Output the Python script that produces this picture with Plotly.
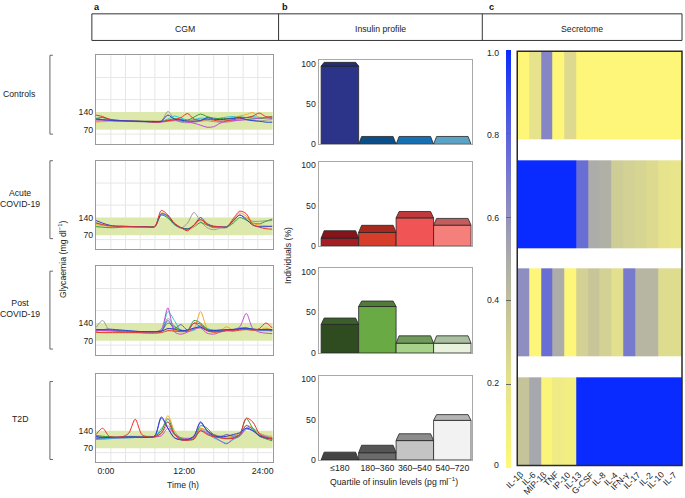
import plotly.graph_objects as go

W, H = 685, 498
FONT = "Liberation Sans, Arial, sans-serif"
FS = 8.7
TXT = "#222222"

# ---------------- data ----------------
HOURS = [-1.5, -0.5, 0.5, 1.5, 2.5, 3.5, 4.5, 5.5, 6.5, 7.5, 8.5, 9.5, 10.5, 11.5,
         12.5, 13.5, 14.5, 15.5, 16.5, 17.5, 18.5, 19.5, 20.5, 21.5, 22.5, 23.5, 24.5, 25.5]
TIME_TICKS = [0, 12, 24]
TIME_LABELS = ["0:00", "12:00", "24:00"]
GLY_TICKS = [70, 140]

GROUPS = ["Controls", "Acute<br>COVID-19", "Post<br>COVID-19", "T2D"]

CTRL_RED = [128, 122, 112, 108, 106, 104, 104, 103, 102, 100, 102, 106, 110, 118, 134, 112, 108, 112, 108, 104, 106, 110, 114, 118, 124, 136, 122, 120]
CTRL_BLUE = [112, 110, 108, 106, 106, 105, 104, 103, 102, 102, 104, 128, 112, 108, 104, 104, 106, 118, 112, 110, 112, 114, 118, 110, 106, 104, 100, 100]
CTRL_GREEN = [115, 118, 112, 108, 106, 104, 104, 103, 103, 103, 102, 108, 114, 110, 108, 120, 132, 122, 116, 114, 114, 116, 120, 118, 116, 114, 118, 122]
CTRL_ORANGE = [100, 102, 104, 104, 105, 104, 104, 104, 104, 104, 104, 106, 108, 110, 108, 104, 106, 110, 110, 112, 114, 118, 124, 130, 138, 118, 116, 118]
CTRL_CYAN = [112, 110, 108, 106, 105, 105, 104, 104, 104, 103, 104, 112, 124, 116, 108, 110, 116, 114, 110, 116, 120, 122, 120, 118, 122, 118, 116, 116]
CTRL_MAGENTA = [105, 106, 106, 105, 104, 104, 103, 103, 102, 100, 100, 104, 106, 104, 100, 96, 88, 80, 82, 96, 104, 106, 108, 110, 112, 116, 118, 114]
CTRL_GRAY = [110, 120, 108, 104, 104, 103, 102, 101, 100, 100, 104, 142, 112, 100, 98, 100, 104, 106, 102, 100, 100, 104, 108, 110, 106, 104, 108, 110]

ACU_RED = [118, 112, 108, 106, 105, 104, 104, 103, 103, 104, 168, 150, 118, 100, 88, 112, 132, 112, 104, 104, 102, 135, 165, 155, 112, 102, 96, 94]
ACU_BLUE = [128, 118, 110, 106, 106, 105, 104, 104, 103, 104, 155, 145, 115, 100, 94, 110, 140, 115, 106, 104, 104, 128, 150, 132, 110, 104, 104, 106]
ACU_ORANGE = [112, 108, 106, 104, 104, 103, 103, 102, 102, 104, 158, 148, 116, 100, 90, 104, 132, 118, 104, 103, 103, 130, 158, 145, 118, 110, 108, 104]
ACU_GRAY = [120, 112, 106, 104, 103, 103, 102, 102, 102, 104, 150, 140, 112, 98, 118, 160, 125, 100, 92, 98, 100, 125, 150, 138, 125, 125, 127, 128]
ACU_GREEN = [104, 102, 100, 100, 102, 103, 103, 103, 104, 106, 150, 138, 112, 100, 96, 104, 120, 110, 100, 102, 102, 118, 140, 130, 118, 115, 125, 134]

POST_MAGENTA = [112, 110, 110, 108, 106, 106, 105, 104, 104, 105, 115, 200, 105, 96, 104, 116, 120, 100, 96, 104, 110, 112, 125, 178, 118, 104, 100, 98]
POST_CYAN = [108, 112, 112, 110, 108, 108, 106, 106, 104, 104, 106, 185, 150, 110, 108, 112, 130, 118, 112, 112, 110, 112, 120, 122, 114, 110, 110, 108]
POST_GRAY = [122, 150, 112, 108, 106, 105, 104, 104, 104, 104, 110, 158, 128, 112, 112, 120, 126, 116, 112, 110, 112, 116, 120, 118, 114, 112, 112, 112]
POST_ORANGE = [102, 104, 106, 106, 106, 105, 105, 104, 104, 104, 106, 118, 112, 108, 108, 118, 185, 120, 104, 110, 125, 112, 118, 116, 112, 112, 120, 112]
POST_GREEN = [110, 112, 112, 110, 108, 107, 106, 106, 105, 105, 108, 140, 125, 112, 110, 150, 140, 116, 110, 112, 112, 114, 116, 118, 116, 114, 115, 114]
POST_RED = [104, 102, 102, 102, 102, 102, 102, 101, 100, 100, 102, 110, 108, 106, 108, 140, 135, 110, 104, 106, 110, 108, 112, 114, 112, 118, 140, 120]
POST_BLUE = [115, 114, 116, 114, 112, 110, 108, 106, 106, 106, 108, 118, 116, 110, 112, 120, 124, 112, 110, 112, 114, 114, 118, 120, 116, 114, 114, 114]
POST_PURPLE = [110, 112, 112, 110, 108, 107, 106, 106, 106, 106, 108, 150, 118, 134, 112, 140, 124, 110, 106, 108, 112, 112, 116, 118, 114, 112, 112, 110]

T2D_RED = [125, 150, 118, 114, 116, 130, 186, 125, 115, 116, 130, 175, 125, 104, 102, 108, 140, 125, 116, 112, 108, 110, 125, 190, 175, 128, 112, 108]
T2D_BLUE = [118, 112, 114, 114, 115, 116, 115, 114, 114, 120, 195, 150, 112, 104, 104, 120, 172, 140, 120, 116, 118, 125, 132, 150, 140, 120, 112, 106]
T2D_ORANGE = [122, 118, 116, 114, 116, 118, 118, 118, 118, 118, 140, 200, 140, 110, 104, 112, 150, 140, 125, 120, 118, 120, 130, 162, 150, 130, 120, 118]
T2D_CYAN = [110, 108, 110, 112, 112, 112, 113, 114, 114, 115, 150, 175, 125, 108, 106, 112, 145, 130, 112, 100, 90, 105, 120, 150, 150, 130, 120, 112]
T2D_GREEN = [120, 118, 116, 114, 114, 115, 115, 115, 116, 118, 140, 188, 130, 108, 104, 106, 160, 150, 124, 114, 110, 112, 125, 188, 150, 120, 108, 100]
T2D_MAGENTA = [112, 114, 114, 114, 114, 115, 116, 116, 116, 116, 120, 150, 128, 112, 110, 114, 140, 130, 118, 100, 88, 108, 118, 150, 140, 124, 116, 108]
T2D_GRAY = [105, 106, 108, 110, 112, 112, 113, 113, 114, 114, 130, 160, 125, 110, 108, 112, 150, 135, 118, 112, 110, 112, 120, 145, 140, 122, 114, 108]
T2D_PURPLE = [108, 112, 112, 112, 112, 113, 114, 114, 114, 118, 190, 150, 112, 104, 104, 118, 176, 140, 125, 116, 125, 118, 124, 160, 145, 118, 110, 110]

INSULIN_QUARTILES = ["≤180", "180–360", "360–540", "540–720"]
PCT_CONTROLS = [97, 0, 0, 0]
PCT_ACUTE = [10, 17, 35, 26]
PCT_POST = [35, 57, 12, 12]
PCT_T2D = [0, 9, 24, 49]

SECRETOME_COLS = ["IL-1β", "IL-6", "MIP-1β", "TNF", "IP-10", "IL-13", "G-CSF", "IL-8",
                  "IL-4", "IFN-γ", "IL-17", "IL-2", "IL-10", "IL-7"]
SEC_CONTROLS = [0.02, 0.2, 0.65, 0.02, 0.25, 0.02, 0.02, 0.02, 0.02, 0.02, 0.02, 0.02, 0.02, 0.02]
SEC_ACUTE = [1, 1, 1, 1, 1, 0.75, 0.5, 0.48, 0.32, 0.3, 0.28, 0.25, 0.2, 0.18]
SEC_POST = [0.62, 0.02, 0.75, 0.5, 0.02, 0.3, 0.36, 0.3, 0.22, 0.7, 0.45, 0.45, 0.24, 0.24]
SEC_T2D = [0.38, 0.52, 0.04, 0.12, 0.1, 1, 1, 1, 1, 1, 1, 1, 1, 1]
CB_TICKS = [0, 0.2, 0.4, 0.6, 0.8, 1.0]
CB_LABELS = ["0", "0.2", "0.4", "0.6", "0.8", "1.0"]

# ---------------- styles ----------------
COLORS = dict(red="#e8312b", blue="#2a3fd6", green="#2e9e3e", orange="#f5a623",
              cyan="#22c5d8", magenta="#c04fd0", gray="#9a9a9a", purple="#6a5acd")

CGM_SETS = [
    [(CTRL_GRAY, "gray"), (CTRL_CYAN, "cyan"), (CTRL_ORANGE, "orange"), (CTRL_GREEN, "green"),
     (CTRL_MAGENTA, "magenta"), (CTRL_RED, "red"), (CTRL_BLUE, "blue")],
    [(ACU_GRAY, "gray"), (ACU_GREEN, "green"), (ACU_ORANGE, "orange"), (ACU_BLUE, "blue"), (ACU_RED, "red")],
    [(POST_GRAY, "gray"), (POST_CYAN, "cyan"), (POST_ORANGE, "orange"), (POST_GREEN, "green"),
     (POST_PURPLE, "purple"), (POST_MAGENTA, "magenta"), (POST_BLUE, "blue"), (POST_RED, "red")],
    [(T2D_GRAY, "gray"), (T2D_CYAN, "cyan"), (T2D_ORANGE, "orange"), (T2D_MAGENTA, "magenta"),
     (T2D_PURPLE, "purple"), (T2D_GREEN, "green"), (T2D_BLUE, "blue"), (T2D_RED, "red")],
]

BAR_SETS = [PCT_CONTROLS, PCT_ACUTE, PCT_POST, PCT_T2D]
BAR_FRONT = [["#2b3488", "#0b4f8a", "#1670b5", "#5aa3c6"],
             ["#a31d24", "#d63d2a", "#f05454", "#f47f7b"],
             ["#2f4c21", "#6aaa45", "#a6d28a", "#e8f2dc"],
             ["#444444", "#6b6b6b", "#c4c4c4", "#f2f2f2"]]
BAR_TOP = [["#252d78", "#0b4f8a", "#1670b5", "#5aa3c6"],
           ["#86141a", "#a8291e", "#c0393d", "#c35c5c"],
           ["#3b5e2b", "#4f7c36", "#6f9a5c", "#a9bfa0"],
           ["#444444", "#555555", "#8c8c8c", "#b4b4b4"]]

CGM_BOX = [(54, 144), (161, 251), (268, 358), (377.7, 467)]
BAR_BOX = [(59.3, 144.3), (162.3, 247.7), (270, 356), (379.3, 464.5)]
LABEL_Y = [93.7, 199, 311, 423.3]
BRACKETS = [(54, 134), (161, 240), (273, 352), (385, 464)]
CGM_X = (96, 273)
BAR_X = (319, 472.5)
HEAT_X = (518, 683)
HEAT_Y = (50, 470)


def fx(p):
    return p / W


def fy(p):
    return 1 - p / H


def axn(k):
    return "" if k == 1 else str(k)


fig = go.Figure()
layout = dict(width=W, height=H, margin=dict(l=0, r=0, t=0, b=0),
              paper_bgcolor="white", plot_bgcolor="white", showlegend=False,
              font=dict(family=FONT, size=FS, color=TXT))
shapes = []
annotations = []

# ---------------- CGM panels ----------------
for i, traces in enumerate(CGM_SETS):
    k = i + 1
    for vals, cname in traces:
        fig.add_trace(go.Scatter(x=HOURS, y=vals, mode="lines",
                                 line=dict(color=COLORS[cname], width=1, shape="spline", smoothing=0.8),
                                 xaxis="x" + axn(k), yaxis="y" + axn(k), hoverinfo="skip"))
    top, bot = CGM_BOX[i]
    layout["xaxis" + axn(k)] = dict(domain=[fx(CGM_X[0]), fx(CGM_X[1])], anchor="y" + axn(k),
                                    range=[-1.53, 25.53], tickvals=TIME_TICKS, ticktext=TIME_LABELS,
                                    showticklabels=(k == 4), showgrid=False, zeroline=False,
                                    showline=True, mirror=True, linecolor="#9a9a9a", linewidth=1,
                                    ticks="", tickfont=dict(size=FS, color=TXT))
    layout["yaxis" + axn(k)] = dict(domain=[fy(bot), fy(top)], anchor="x" + axn(k),
                                    range=[14, 364], tickvals=GLY_TICKS, showgrid=False,
                                    zeroline=False, showline=True, mirror=True, linecolor="#9a9a9a",
                                    linewidth=1, ticks="", tickfont=dict(size=FS, color=TXT))
    g = 0.76
    while g < 25.5:
        shapes.append(dict(type="line", xref="x" + axn(k), yref="y" + axn(k) + " domain",
                           x0=g, x1=g, y0=0, y1=1, line=dict(color="#e6e6e6", width=1), layer="below"))
        g += 2.25
    for gv in [53, 189, 276]:
        shapes.append(dict(type="line", xref="x" + axn(k) + " domain", yref="y" + axn(k),
                           x0=0, x1=1, y0=gv, y1=gv, line=dict(color="#e6e6e6", width=1), layer="below"))
    shapes.append(dict(type="rect", xref="x" + axn(k) + " domain", yref="y" + axn(k),
                       x0=0, x1=1, y0=GLY_TICKS[0], y1=GLY_TICKS[1],
                       fillcolor="rgb(221,232,172)", line=dict(width=0), layer="below"))

# ---------------- insulin bars ----------------
INSET = 0.08
for i, vals in enumerate(BAR_SETS):
    k = i + 5
    xs = list(range(len(INSULIN_QUARTILES)))
    fig.add_trace(go.Bar(x=xs, y=vals, width=1, marker=dict(color=BAR_FRONT[i],
                         line=dict(color="#262626", width=0.8)),
                         xaxis="x" + axn(k), yaxis="y" + axn(k), hoverinfo="skip"))
    for j, v in enumerate(vals):
        h = 9.7 - 0.052 * v
        fig.add_trace(go.Scatter(
            x=[j - 0.5, j - 0.5 + INSET, j + 0.5 - INSET, j + 0.5, j - 0.5],
            y=[v, v + h, v + h, v, v], mode="lines", fill="toself",
            fillcolor=BAR_TOP[i][j], line=dict(color="#262626", width=0.8),
            xaxis="x" + axn(k), yaxis="y" + axn(k), hoverinfo="skip"))
    top, bot = BAR_BOX[i]
    layout["xaxis" + axn(k)] = dict(domain=[fx(BAR_X[0]), fx(BAR_X[1])], anchor="y" + axn(k),
                                    range=[-0.57, 3.52], tickvals=xs, ticktext=INSULIN_QUARTILES,
                                    showticklabels=(k == 8), showgrid=False, zeroline=False,
                                    showline=True, mirror=True, linecolor="#a8a8a8", linewidth=1,
                                    ticks="", tickfont=dict(size=FS, color=TXT))
    layout["yaxis" + axn(k)] = dict(domain=[fy(bot), fy(top)], anchor="x" + axn(k),
                                    range=[0, 104], tickvals=[0, 50, 100], showgrid=False,
                                    zeroline=False, showline=True, mirror=True, linecolor="#a8a8a8",
                                    linewidth=1, ticks="", tickfont=dict(size=FS, color=TXT))

# ---------------- secretome heatmap ----------------
GAP = 0.235
nanrow = [None] * len(SECRETOME_COLS)
z = [SEC_CONTROLS, nanrow, SEC_ACUTE, nanrow, SEC_POST, nanrow, SEC_T2D]
edges = [0.0]
for r in range(len(z)):
    edges.append(edges[-1] + (1.0 if r % 2 == 0 else GAP))
cb_len = HEAT_Y[1] - 51.7
xcols = list(range(len(SECRETOME_COLS)))
fig.add_trace(go.Heatmap(
    z=z, x=xcols, y=edges, zmin=0, zmax=1,
    colorscale=[[0, "#fff877"], [0.2, "#e6e38c"], [0.4, "#c0bf9c"], [0.5, "#acacaa"],
                [0.65, "#8686c6"], [0.8, "#5b62dc"], [1, "#0a2bff"]],
    xaxis="x9", yaxis="y9", hoverinfo="skip",
    colorbar=dict(x=fx(507), xanchor="left", thickness=5, thicknessmode="pixels",
                  len=cb_len, lenmode="pixels", y=fy((51.7 + HEAT_Y[1]) / 2), yanchor="middle",
                  ypad=0, xpad=0, outlinewidth=0, tickvals=CB_TICKS, showticklabels=False,
                  ticks="inside", ticklen=5, tickcolor="#666666")))
layout["xaxis9"] = dict(domain=[fx(HEAT_X[0]), fx(HEAT_X[1])], anchor="y9",
                        range=[-0.5, len(SECRETOME_COLS) - 0.5], showticklabels=False,
                        showgrid=False, zeroline=False, showline=False, ticks="")
layout["yaxis9"] = dict(domain=[fy(HEAT_Y[1]), fy(HEAT_Y[0])], anchor="x9",
                        range=[edges[-1], 0], showgrid=False, zeroline=False,
                        showticklabels=False, ticks="")
shapes.append(dict(type="rect", xref="x9 domain", yref="y9 domain", x0=0, x1=1, y0=0, y1=1,
                   line=dict(color="#2a2a2a", width=1.5)))
for c, lab in zip(xcols, SECRETOME_COLS):
    annotations.append(dict(x=c + 0.3, y=fy(HEAT_Y[1] + 3), xref="x9", yref="paper", text=lab,
                            textangle=-45, showarrow=False, xanchor="right", yanchor="top",
                            font=dict(size=FS, color=TXT), borderpad=0))
for v, lab in zip(CB_TICKS, CB_LABELS):
    annotations.append(dict(x=fx(502), y=fy(HEAT_Y[1] - v * cb_len), xref="paper", yref="paper",
                            text=lab, showarrow=False, xanchor="right", yanchor="middle",
                            font=dict(size=FS, color=TXT)))

# ---------------- header ----------------
shapes.append(dict(type="rect", xref="paper", yref="paper", x0=fx(92), x1=fx(683), y0=fy(39), y1=fy(12),
                   line=dict(color="#333333", width=1)))
for xd in [279, 483]:
    shapes.append(dict(type="line", xref="paper", yref="paper", x0=fx(xd), x1=fx(xd), y0=fy(39), y1=fy(12),
                       line=dict(color="#333333", width=1)))
for xc, lab in [((92 + 279) / 2, "CGM"), ((279 + 483) / 2, "Insulin profile"), ((483 + 683) / 2, "Secretome")]:
    annotations.append(dict(x=fx(xc), y=fy(27), xref="paper", yref="paper", text=lab, showarrow=False,
                            xanchor="center", yanchor="middle", font=dict(size=FS, color=TXT)))
for xc, lab in [(92, "a"), (280, "b"), (488, "c")]:
    annotations.append(dict(x=fx(xc), y=fy(5), xref="paper", yref="paper", text="<b>" + lab + "</b>",
                            showarrow=False, xanchor="left", yanchor="middle",
                            font=dict(size=FS + 0.5, color="#111111")))

# ---------------- row labels and brackets ----------------
for lab, yc, (b0, b1) in zip(GROUPS, LABEL_Y, BRACKETS):
    annotations.append(dict(x=fx(20), y=fy(yc), xref="paper", yref="paper", text=lab, showarrow=False,
                            xanchor="center", yanchor="middle", align="center",
                            font=dict(size=FS, color=TXT)))
    shapes.append(dict(type="path", xref="paper", yref="paper",
                       path=f"M {fx(53)} {fy(b0)} L {fx(50)} {fy(b0)} L {fx(50)} {fy(b1)} L {fx(53)} {fy(b1)}",
                       line=dict(color="#666666", width=1)))

# ---------------- axis titles ----------------
annotations += [
    dict(x=fx(62.7), y=fy(261), xref="paper", yref="paper", text="Glycaemia (mg dl<sup>−1</sup>)",
         textangle=-90, showarrow=False, xanchor="center", yanchor="middle", font=dict(size=FS, color=TXT)),
    dict(x=fx(183), y=fy(490), xref="paper", yref="paper", text="Time (h)", showarrow=False,
         xanchor="center", yanchor="middle", font=dict(size=FS, color=TXT)),
    dict(x=fx(289), y=fy(257), xref="paper", yref="paper", text="Individuals (%)", textangle=-90,
         showarrow=False, xanchor="center", yanchor="middle", font=dict(size=FS, color=TXT)),
    dict(x=fx(395), y=fy(486), xref="paper", yref="paper",
         text="Quartile of insulin levels (pg ml<sup>−1</sup>)", showarrow=False,
         xanchor="center", yanchor="middle", font=dict(size=FS, color=TXT)),
]

layout["shapes"] = shapes
layout["annotations"] = annotations
fig.update_layout(**layout)
fig.write_html("out.html", config={"displayModeBar": False},
               post_script="document.body.style.margin='0';document.body.style.overflow='hidden';")
